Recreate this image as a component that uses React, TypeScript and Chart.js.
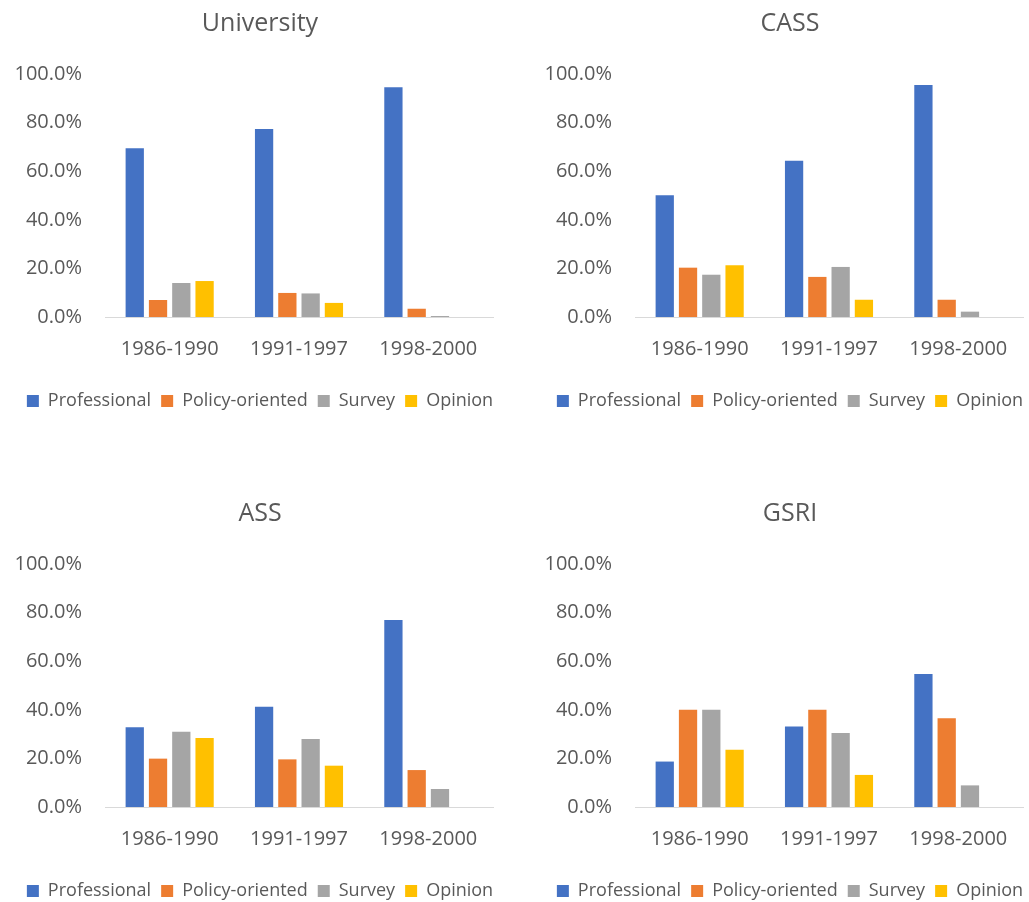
import React, { useEffect, useRef } from 'react';
import { Chart, registerables } from 'chart.js';

Chart.register(...registerables);

const FONT = '"Open Sans", sans-serif';
const TEXT_COLOR = '#595959';

const categories = ['1986-1990', '1991-1997', '1998-2000'];
const seriesNames = ['Professional', 'Policy-oriented', 'Survey', 'Opinion'];
const seriesColors = ['#4472C4', '#ED7D31', '#A5A5A5', '#FFC000'];
const yTicks = [0, 0.2, 0.4, 0.6, 0.8, 1.0];

// University
const universityProfessional = [0.694, 0.774, 0.945];
const universityPolicy = [0.07, 0.099, 0.034];
const universitySurvey = [0.14, 0.097, 0.004];
const universityOpinion = [0.148, 0.058, 0];

// CASS
const cassProfessional = [0.501, 0.643, 0.955];
const cassPolicy = [0.203, 0.165, 0.071];
const cassSurvey = [0.174, 0.206, 0.022];
const cassOpinion = [0.213, 0.071, 0];

// ASS
const assProfessional = [0.328, 0.413, 0.77];
const assPolicy = [0.199, 0.196, 0.152];
const assSurvey = [0.31, 0.28, 0.074];
const assOpinion = [0.284, 0.17, 0];

// GSRI
const gsriProfessional = [0.187, 0.331, 0.547];
const gsriPolicy = [0.4, 0.4, 0.365];
const gsriSurvey = [0.4, 0.305, 0.089];
const gsriOpinion = [0.236, 0.132, 0];

const panels = [
  { title: 'University', series: [universityProfessional, universityPolicy, universitySurvey, universityOpinion], left: 0, top: 0 },
  { title: 'CASS', series: [cassProfessional, cassPolicy, cassSurvey, cassOpinion], left: 530, top: 0 },
  { title: 'ASS', series: [assProfessional, assPolicy, assSurvey, assOpinion], left: 0, top: 490 },
  { title: 'GSRI', series: [gsriProfessional, gsriPolicy, gsriSurvey, gsriOpinion], left: 530, top: 490 },
];

const W = 520;
const H = 420;

function Panel({ title, series, left, top }: { title: string; series: number[][]; left: number; top: number }) {
  const ref = useRef<HTMLCanvasElement>(null);
  useEffect(() => {
    const chart = new Chart(ref.current as HTMLCanvasElement, {
      type: 'bar',
      data: {
        labels: categories,
        datasets: seriesNames.map((name, i) => ({
          label: name,
          data: series[i],
          backgroundColor: seriesColors[i],
          borderWidth: 0,
          categoryPercentage: 0.72,
          barPercentage: 0.785,
          yAxisID: 'y',
        })),
      },
      options: {
        responsive: false,
        animation: false,
        devicePixelRatio: 1,
        layout: { padding: { left: 0, right: 0, top: 0, bottom: 0 } },
        plugins: {
          title: {
            display: true,
            text: title,
            color: TEXT_COLOR,
            font: { family: FONT, size: 25, weight: 'normal' },
            padding: { top: 9, bottom: 35 },
          },
          legend: {
            position: 'bottom',
            labels: {
              color: TEXT_COLOR,
              font: { family: FONT, size: 18 },
              boxWidth: 12,
              boxHeight: 12,
              padding: 10,
            },
          },
          tooltip: { enabled: false },
        },
        scales: {
          x: {
            grid: { display: false, drawTicks: false },
            border: { display: true, color: '#d9d9d9', width: 1 },
            ticks: { color: TEXT_COLOR, font: { family: FONT, size: 20 }, padding: 20 },
            afterFit: (s: any) => {
              s.height = 65;
            },
          },
          y: {
            position: 'left',
            min: 0,
            max: 1,
            grid: { display: false, drawTicks: false },
            border: { display: false },
            afterBuildTicks: (s: any) => {
              s.ticks = yTicks.map((v) => ({ value: v }));
            },
            ticks: {
              color: TEXT_COLOR,
              font: { family: FONT, size: 20 },
              padding: 23,
              callback: (v: any) => (Number(v) * 100).toFixed(1) + '%',
            },
            afterFit: (s: any) => {
              s.width = 105;
            },
          },
          yRight: {
            position: 'right',
            display: true,
            min: 0,
            max: 1,
            grid: { display: false, drawTicks: false },
            border: { display: false },
            ticks: { display: false },
            afterFit: (s: any) => {
              s.width = 27;
            },
          },
        },
      },
    } as any);
    return () => chart.destroy();
  }, []);
  return (
    <canvas
      ref={ref}
      width={W}
      height={H}
      style={{ position: 'absolute', left, top, width: W, height: H }}
    />
  );
}

export default function App() {
  return (
    <div
      style={{
        position: 'absolute',
        left: 0,
        top: 0,
        width: 1029,
        height: 902,
        overflow: 'hidden',
        background: '#ffffff',
      }}
    >
      {panels.map((p) => (
        <Panel key={p.title} title={p.title} series={p.series} left={p.left} top={p.top} />
      ))}
    </div>
  );
}
